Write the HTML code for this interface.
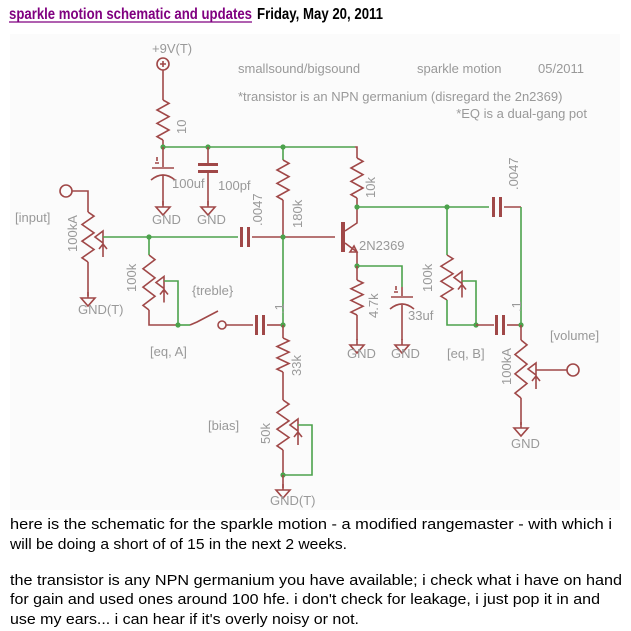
<!DOCTYPE html>
<html><head><meta charset="utf-8">
<style>
body{margin:0;background:#fff;width:631px;height:631px;overflow:hidden;font-family:"Liberation Sans",sans-serif}
svg{position:absolute;left:0;top:0}
</style></head><body>
<svg id="s" width="631" height="631" viewBox="0 0 631 631" xmlns="http://www.w3.org/2000/svg">
<rect x="10" y="34" width="610" height="476" fill="#fbfbfb"/>
<g font-family="Liberation Sans, sans-serif">
<text x="9" y="19" font-size="16" font-weight="bold" fill="#800080" textLength="243" lengthAdjust="spacingAndGlyphs">sparkle motion schematic and updates</text>
<line x1="9" y1="22" x2="252" y2="22" stroke="#800080" stroke-width="1.3"/>
<text x="257" y="19" font-size="16" font-weight="bold" fill="#000" textLength="126" lengthAdjust="spacingAndGlyphs">Friday, May 20, 2011</text>
</g>
<g id="w" fill="none" stroke-width="1.6"></g>
<g id="t" font-family="Liberation Sans, sans-serif" font-size="13" fill="#999"></g>
<g font-family="Liberation Sans, sans-serif" font-size="15" fill="#000">
<text x="10" y="529" textLength="602" lengthAdjust="spacingAndGlyphs">here is the schematic for the sparkle motion - a modified rangemaster - with which i</text>
<text x="10" y="549" textLength="337" lengthAdjust="spacingAndGlyphs">will be doing a short of of 15 in the next 2 weeks.</text>
<text x="10" y="585" textLength="612" lengthAdjust="spacingAndGlyphs">the transistor is any NPN germanium you have available; i check what i have on hand</text>
<text x="10" y="604" textLength="590" lengthAdjust="spacingAndGlyphs">for gain and used ones around 100 hfe. i don't check for leakage, i just pop it in and</text>
<text x="10" y="624" textLength="349" lengthAdjust="spacingAndGlyphs">use my ears... i can hear if it's overly noisy or not.</text>
</g>
</svg>
<script>
var R="#a04848",G="#4ca24c",NS="http://www.w3.org/2000/svg";
var w=document.getElementById('w'),t=document.getElementById('t');
function el(p,n,a){var e=document.createElementNS(NS,n);for(var k in a)e.setAttribute(k,a[k]);p.appendChild(e);return e;}
function P(d,c){el(w,'path',{d:d,stroke:c||R});}
function L(pts,c){P('M'+pts.join(' L'),c);}
function dot(x,y){el(w,'circle',{cx:x,cy:y,r:2.6,fill:G,stroke:'none'});}
function res(x,y0,y1){var n=6,h=(y1-y0)/n,d='M'+x+' '+y0;for(var i=0;i<n;i++){d+=' L'+(x+(i%2?-6:6))+' '+(y0+h*(i+0.5));}d+=' L'+x+' '+y1;P(d);}
function pot(x,y0,y1){res(x,y0,y1);var m=(y0+y1)/2;
 P('M'+(x+7)+' '+m+' l8 -6 l0 12 z');P('M'+(x+15)+' '+(m+20)+' l0 -12 M'+(x+11)+' '+(m+12)+' l4 -5 l4 5');}
function gnd(x,y){P('M'+x+' '+(y-6)+' L'+x+' '+y+' M'+(x-7)+' '+y+' L'+(x+7)+' '+y+' L'+x+' '+(y+8)+' Z');}
function capV(x,y){el(w,'rect',{x:x-10,y:y-5,width:20,height:3,fill:R,stroke:'none'});el(w,'rect',{x:x-10,y:y+2,width:20,height:3,fill:R,stroke:'none'});}
function capH(x,y){el(w,'rect',{x:x-5,y:y-10,width:3,height:20,fill:R,stroke:'none'});el(w,'rect',{x:x+2,y:y-10,width:3,height:20,fill:R,stroke:'none'});}
function elco(x,y){P('M'+(x-11)+' '+y+' L'+(x+11)+' '+y);P('M'+(x-12)+' '+(y+12)+' Q'+x+' '+(y+2)+' '+(x+12)+' '+(y+12));P('M'+(x-6)+' '+(y-7)+' l0 -4 M'+(x-8)+' '+(y-5)+' l4 0');}
function tx(x,y,s,rot,anchor){var a={x:x,y:y};if(rot)a.transform='rotate(-90 '+x+' '+y+')';if(anchor)a['text-anchor']=anchor;el(t,'text',a).textContent=s;}
el(w,'circle',{cx:163,cy:64,r:6,stroke:R});P('M160 64 h6 M163 61 v6');
L(['163 70','163 100']);res(163,100,140);L(['163 140','163 147']);
L(['163 147','355 147'],G);L(['355 147','357 147','357 158']);
dot(163,147);dot(208,147);dot(283,147);
L(['163 147','163 167']);elco(163,168);L(['163 175','163 205']);gnd(163,207);
L(['208 147','208 165']);capV(208,168);L(['208 173','208 205']);gnd(208,207);
L(['283 147','283 160'],G);res(283,160,200);L(['283 200','283 237']);
el(w,'circle',{cx:66,cy:191,r:6,stroke:R});L(['72 191','88 191','88 212']);pot(88,212,262);L(['88 262','88 296']);gnd(88,298);
L(['103 237','150 237'],G);L(['150 237','238 237'],G);capH(245,237);L(['252 237','283 237'],R);L(['283 237','335 237'],R);
dot(149,237);dot(283,237);
L(['149 237','149 255'],G);pot(149,255,310);L(['149 310','149 325','178 325'],R);L(['164 281','178 281','178 325'],G);dot(178,325);
L(['178 325','190 325'],G);L(['190 325','197 322','218 311']);el(w,'circle',{cx:222,cy:325,r:4,stroke:R});
L(['226 325','253 325']);capH(260,325);L(['267 325','283 325']);dot(283,325);
L(['283 237','283 325'],G);
L(['283 325','283 338']);res(283,338,372);L(['283 372','283 400']);pot(283,400,450);L(['283 450','283 475']);
L(['298 425','312 425','312 475','283 475'],G);dot(283,475);L(['283 475','283 488']);gnd(283,490);
el(w,'rect',{x:341,y:222,width:4,height:30,fill:R,stroke:'none'});
L(['345 231','357 223','357 207']);L(['345 243','357 252','357 266']);P('M357 252 l-7 0 l4 -6 z');
res(357,158,198);L(['357 198','357 207']);dot(357,207);
L(['357 207','489 207'],G);capH(497,207);L(['504 207','521 207']);L(['521 207','521 325'],G);dot(447,207);
dot(357,266);L(['357 266','402 266','402 287'],G);L(['402 287','402 296']);elco(402,297);L(['402 305','402 340']);gnd(402,345);
L(['357 266','357 280']);res(357,280,315);L(['357 315','357 340']);gnd(357,345);
L(['447 207','447 255'],G);pot(447,255,300);L(['462 281','476 281','476 325'],G);L(['447 300','447 325','476 325'],G);dot(476,325);
L(['476 325','494 325']);capH(500,325);L(['507 325','521 325']);dot(521,325);
L(['521 325','521 340']);pot(521,340,398);L(['536 370','567 370']);el(w,'circle',{cx:573,cy:370,r:6,stroke:R});
L(['521 398','521 425']);gnd(521,428);
tx(152,53,'+9V(T)');tx(238,73,'smallsound/bigsound');tx(417,73,'sparkle motion');tx(538,73,'05/2011');
tx(238,101,'*transistor is an NPN germanium (disregard the 2n2369)');tx(587,118,'*EQ is a dual-gang pot',false,'end');
tx(186,134,'10',true);tx(172,188,'100uf');tx(218,190,'100pf');
tx(152,224,'GND');tx(197,224,'GND');tx(262,226,'.0047',true);tx(302,228,'180k',true);tx(375,198,'10k',true);
tx(518,190,'.0047',true);tx(15,222,'[input]');tx(77,252,'100kA',true);tx(136,292,'100k',true);
tx(192,295,'{treble}');tx(78,314,'GND(T)');tx(359,250,'2N2369');tx(150,356,'[eq, A]');tx(284,314,'.1',true);
tx(301,376,'33k',true);tx(378,318,'4.7k',true);tx(408,320,'33uf');tx(432,292,'100k',true);
tx(347,358,'GND');tx(391,358,'GND');tx(447,358,'[eq, B]');tx(521,312,'.1',true);tx(550,340,'[volume]');
tx(511,385,'100kA',true);tx(511,448,'GND');tx(208,430,'[bias]');tx(270,444,'50k',true);tx(270,505,'GND(T)');
</script>
</body></html>
